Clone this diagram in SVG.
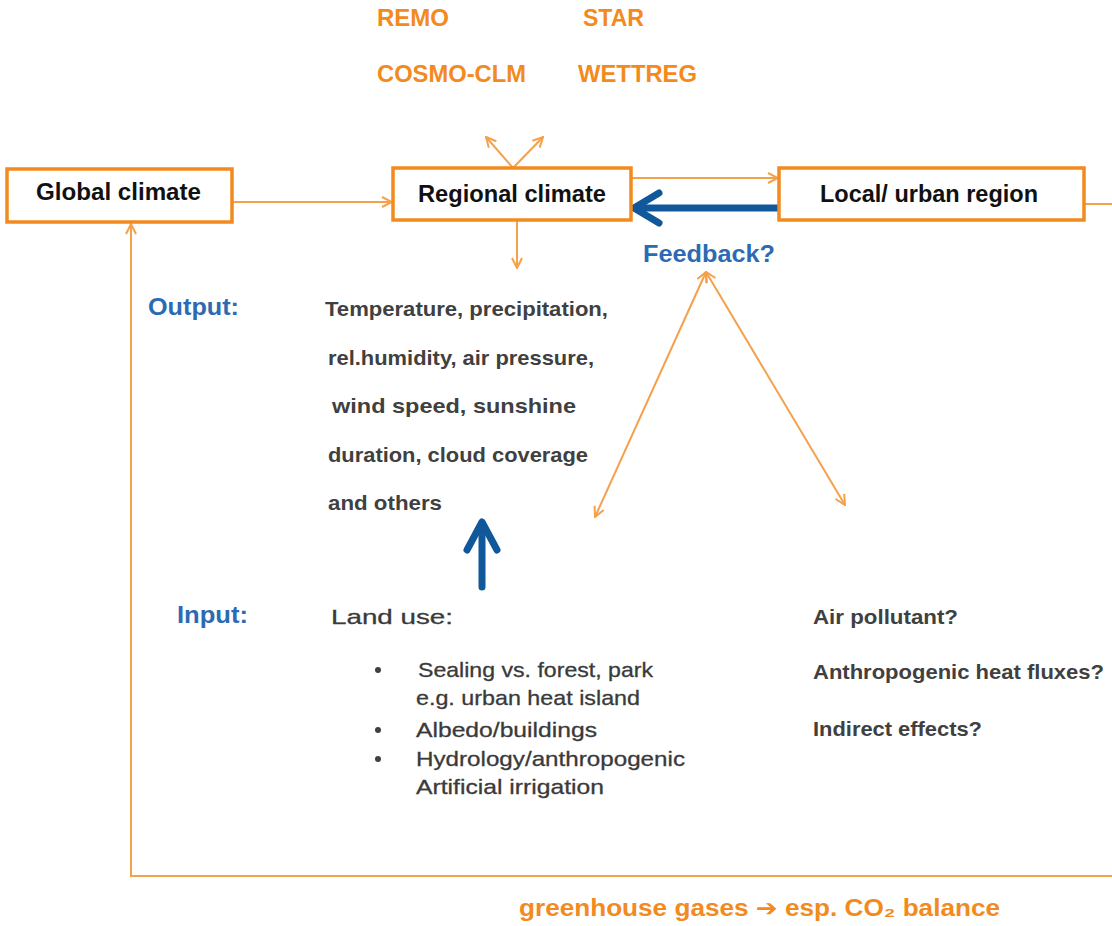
<svg xmlns="http://www.w3.org/2000/svg" width="1112" height="926" viewBox="0 0 1112 926">
<defs>
<style>
.box{fill:#fff;stroke:#F28A1E;stroke-width:3.5}
.ln{fill:none;stroke:#F5A04A;stroke-width:2}
.blue{fill:none;stroke:#11589A;stroke-width:7;stroke-linecap:round;stroke-linejoin:round}
.nt{font-family:"Liberation Sans",Arial,sans-serif;font-weight:bold;font-size:23px;fill:#111}
.or{font-family:"Liberation Sans",Arial,sans-serif;font-weight:bold;font-size:23px;fill:#F28A1E}
.bl{font-family:"Liberation Sans",Arial,sans-serif;font-weight:bold;font-size:23px;fill:#2C6BB3}
.gr{font-family:"Liberation Sans",Arial,sans-serif;font-weight:bold;font-size:21px;fill:#404040}
.gn{font-family:"Liberation Sans",Arial,sans-serif;font-size:21px;fill:#3A3A3A;stroke:#3A3A3A;stroke-width:0.3}
</style>
<marker id="ah" viewBox="0 0 12 12" refX="11" refY="6" markerWidth="12" markerHeight="12" markerUnits="userSpaceOnUse" orient="auto-start-reverse">
<path d="M1,1 L11,6 L1,11" fill="none" stroke="#F5A04A" stroke-width="2"/>
</marker>
</defs>
<rect width="1112" height="926" fill="#fff"/>

<g id="connectors">
<line class="ln" x1="232" y1="202" x2="392" y2="202" marker-end="url(#ah)"/>
<line class="ln" x1="631" y1="178" x2="778" y2="178" marker-end="url(#ah)"/>
<line class="ln" x1="513" y1="168" x2="486" y2="137" marker-end="url(#ah)"/>
<line class="ln" x1="513" y1="168" x2="543" y2="137" marker-end="url(#ah)"/>
<line class="ln" x1="517" y1="221" x2="517" y2="268" marker-end="url(#ah)"/>
<line class="ln" x1="1084" y1="204" x2="1112" y2="204"/>
<polyline class="ln" points="1112,876 131,876 131,224" marker-end="url(#ah)"/>
<line class="ln" x1="706" y1="272" x2="595" y2="517" marker-start="url(#ah)" marker-end="url(#ah)"/>
<line class="ln" x1="706" y1="272" x2="845" y2="505" marker-start="url(#ah)" marker-end="url(#ah)"/>
<line class="blue" x1="777" y1="208" x2="636" y2="208"/>
<polyline class="blue" points="659,193 634,208 659,223"/>
<line class="blue" x1="482" y1="587" x2="482" y2="523"/>
<polyline class="blue" points="467,550 482,522 497,550"/>
</g>

<g id="models">
<text class="or" x="377" y="26" textLength="72" lengthAdjust="spacingAndGlyphs">REMO</text>
<text class="or" x="583" y="26" textLength="61" lengthAdjust="spacingAndGlyphs">STAR</text>
<text class="or" x="377" y="82" textLength="149" lengthAdjust="spacingAndGlyphs">COSMO-CLM</text>
<text class="or" x="578" y="82" textLength="119" lengthAdjust="spacingAndGlyphs">WETTREG</text>
</g>

<g id="global">
<rect class="box" x="7" y="169" width="225" height="53"/>
<text class="nt" x="36" y="200" textLength="165" lengthAdjust="spacingAndGlyphs">Global  climate</text>
</g>

<g id="regional">
<rect class="box" x="393" y="168" width="238" height="52"/>
<text class="nt" x="418" y="202" textLength="188" lengthAdjust="spacingAndGlyphs">Regional climate</text>
</g>

<g id="local">
<rect class="box" x="779" y="168" width="305" height="52"/>
<text class="nt" x="820" y="202" textLength="218" lengthAdjust="spacingAndGlyphs">Local/ urban region</text>
</g>

<g id="feedback">
<text class="bl" x="643" y="262" textLength="132" lengthAdjust="spacingAndGlyphs">Feedback?</text>
</g>

<g id="output">
<text class="bl" x="148" y="315" textLength="91" lengthAdjust="spacingAndGlyphs">Output:</text>
<text class="gr" x="325" y="316" textLength="283" lengthAdjust="spacingAndGlyphs">Temperature, precipitation,</text>
<text class="gr" x="328" y="365" textLength="266" lengthAdjust="spacingAndGlyphs">rel.humidity, air pressure,</text>
<text class="gr" x="332" y="413" textLength="244" lengthAdjust="spacingAndGlyphs">wind speed, sunshine</text>
<text class="gr" x="328" y="462" textLength="260" lengthAdjust="spacingAndGlyphs">duration, cloud coverage</text>
<text class="gr" x="328" y="510" textLength="114" lengthAdjust="spacingAndGlyphs">and others</text>
</g>

<g id="input">
<text class="bl" x="177" y="623" textLength="71" lengthAdjust="spacingAndGlyphs">Input:</text>
<text class="gn" x="331" y="624" font-size="24" textLength="122" lengthAdjust="spacingAndGlyphs">Land use:</text>
<circle cx="378" cy="670" r="3" fill="#404040"/>
<circle cx="378" cy="730" r="3" fill="#404040"/>
<circle cx="378" cy="759" r="3" fill="#404040"/>
<text class="gn" x="418" y="677" textLength="235" lengthAdjust="spacingAndGlyphs">Sealing vs. forest, park</text>
<text class="gn" x="416" y="705" textLength="224" lengthAdjust="spacingAndGlyphs">e.g. urban heat island</text>
<text class="gn" x="416" y="737" textLength="181" lengthAdjust="spacingAndGlyphs">Albedo/buildings</text>
<text class="gn" x="416" y="766" textLength="269" lengthAdjust="spacingAndGlyphs">Hydrology/anthropogenic</text>
<text class="gn" x="416" y="794" textLength="188" lengthAdjust="spacingAndGlyphs">Artificial irrigation</text>
</g>

<g id="effects">
<text class="gr" x="813" y="624" textLength="145" lengthAdjust="spacingAndGlyphs">Air pollutant?</text>
<text class="gr" x="813" y="679" textLength="291" lengthAdjust="spacingAndGlyphs">Anthropogenic heat fluxes?</text>
<text class="gr" x="813" y="736" textLength="169" lengthAdjust="spacingAndGlyphs">Indirect effects?</text>
</g>

<g id="ghg">
<text class="or" x="519" y="916" font-size="25" textLength="481" lengthAdjust="spacingAndGlyphs">greenhouse gases <tspan font-family="'DejaVu Sans',sans-serif">➔</tspan> esp. CO₂ balance</text>
</g>
</svg>
